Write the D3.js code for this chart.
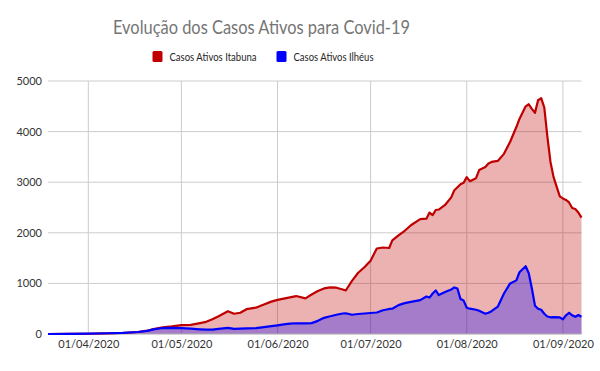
<!DOCTYPE html>
<html>
<head>
<meta charset="utf-8">
<script src="https://cdn.jsdelivr.net/npm/d3@7"></script>
<style>
  body { margin: 0; background: #fff; }
  text { font-family: Lato, "Open Sans", sans-serif; }
</style>
</head>
<body>
<svg id="chart"></svg>
<script>
// dates (dd/mm, 2020) and active cases
const dates = ['19/03','26/03','01/04','07/04','12/04','17/04','20/04','22/04','25/04','28/04',
  '01/05','04/05','07/05','09/05','11/05','13/05','16/05','18/05','20/05','22/05','25/05','27/05','30/05',
  '01/06','03/06','05/06','07/06','10/06','12/06','14/06','16/06','18/06','20/06','22/06','23/06','25/06','27/06','29/06',
  '01/07','03/07','05/07','07/07','08/07','10/07','12/07','14/07','17/07','19/07','20/07','21/07','22/07','23/07','25/07','27/07','28/07','29/07','30/07','31/07',
  '01/08','02/08','04/08','05/08','07/08','08/08','09/08','11/08','13/08','15/08','17/08','18/08','20/08','21/08','22/08','23/08','24/08','25/08','26/08','27/08','28/08','29/08','31/08',
  '01/09','02/09','03/09','04/09','05/09','06/09','07/09'];

const itabuna = [0, 2, 5, 12, 20, 40, 65, 95, 130, 150,
  175, 180, 215, 240, 290, 350, 450, 400, 420, 490, 520, 570, 640,
  675, 700, 725, 750, 705, 780, 850, 900, 920, 915, 880, 860, 1050, 1210, 1320,
  1450, 1690, 1710, 1700, 1850, 1950, 2040, 2150, 2270, 2280, 2400, 2350, 2450, 2460, 2550, 2700, 2840, 2900, 2960, 2990,
  3100, 3020, 3080, 3240, 3300, 3370, 3400, 3420, 3560, 3800, 4090, 4250, 4500, 4540, 4450, 4370, 4620, 4660, 4480, 3900, 3400, 3100, 2720,
  2680, 2650, 2600, 2490, 2470, 2400, 2300];

const ilheus = [0, 3, 8, 15, 22, 40, 62, 90, 118, 122,
  118, 105, 92, 85, 85, 100, 120, 100, 105, 110, 115, 130, 155,
  172, 190, 205, 212, 210, 215, 260, 320, 350, 380, 405, 410, 380, 395, 405,
  415, 425, 470, 495, 500, 570, 610, 635, 670, 740, 720, 800, 860, 770, 830, 880, 920, 900, 690, 660,
  520, 500, 480, 460, 400, 420, 450, 540, 800, 1000, 1060, 1220, 1340, 1200, 900, 560, 500, 480, 400, 345, 330, 335, 330,
  290, 370, 420, 370, 340, 375, 342];

const seriesNames = ['Casos Ativos Itabuna', 'Casos Ativos Ilhéus'];
const seriesColors = ['#c00000', '#0000ff'];
const yTicks = [0, 1000, 2000, 3000, 4000, 5000];

const width = 600, height = 371;
const margin = { top: 81, right: 18.5, bottom: 37, left: 48 };

const parse = d3.timeParse('%d/%m/%Y');
const days = dates.map(d => parse(d + '/2020'));
const series = [itabuna, ilheus].map(vals => vals.map((v, i) => ({ date: days[i], value: v })));

const svg = d3.select('#chart')
  .attr('width', width)
  .attr('height', height);

const x = d3.scaleTime()
  .domain([days[0], days[days.length - 1]])
  .range([margin.left, width - margin.right]);

const y = d3.scaleLinear()
  .domain([0, 5000])
  .range([height - margin.bottom, margin.top]);

const monthTicks = d3.timeMonth.range(d3.timeMonth.ceil(days[0]), days[days.length - 1]);

// gridlines
svg.append('g')
  .selectAll('line')
  .data(yTicks)
  .join('line')
    .attr('x1', margin.left)
    .attr('x2', width - margin.right)
    .attr('y1', d => y(d))
    .attr('y2', d => y(d))
    .attr('stroke', '#cccccc');

svg.append('g')
  .selectAll('line')
  .data(monthTicks)
  .join('line')
    .attr('x1', d => x(d))
    .attr('x2', d => x(d))
    .attr('y1', y(0))
    .attr('y2', y(5000))
    .attr('stroke', '#cccccc');

// areas + lines
const area = d3.area()
  .x(d => x(d.date))
  .y0(y(0))
  .y1(d => y(d.value));

const line = d3.line()
  .x(d => x(d.date))
  .y(d => y(d.value));

svg.append('g')
  .selectAll('path')
  .data(series)
  .join('path')
    .attr('d', area)
    .attr('fill', (d, i) => seriesColors[i])
    .attr('fill-opacity', 0.3);

svg.append('line')
  .attr('x1', margin.left)
  .attr('x2', width - margin.right)
  .attr('y1', y(0))
  .attr('y2', y(0))
  .attr('stroke', '#bfbfbf');

svg.append('g')
  .selectAll('path')
  .data(series)
  .join('path')
    .attr('d', line)
    .attr('fill', 'none')
    .attr('stroke', (d, i) => seriesColors[i])
    .attr('stroke-width', 2.2)
    .attr('stroke-linejoin', 'round');

// axes
const yAxis = d3.axisLeft(y)
  .tickValues(yTicks)
  .tickFormat(d3.format('d'))
  .tickSize(0)
  .tickPadding(6);

svg.append('g')
  .attr('transform', `translate(${margin.left},0)`)
  .call(yAxis)
  .call(g => g.select('.domain').remove())
  .call(g => g.selectAll('text')
    .style('font-family', 'Lato, "Open Sans", sans-serif')
    .style('font-size', '11px')
    .attr('fill', '#333333'));

const xAxis = d3.axisBottom(x)
  .tickValues(monthTicks)
  .tickFormat(d3.timeFormat('%d/%m/%Y'))
  .tickSize(0)
  .tickPadding(6);

svg.append('g')
  .attr('transform', `translate(0,${y(0)})`)
  .call(xAxis)
  .call(g => g.select('.domain').remove())
  .call(g => g.selectAll('text')
    .style('font-family', 'Lato, "Open Sans", sans-serif')
    .style('font-size', '11px')
    .attr('fill', '#333333'));

// title
svg.append('text')
  .attr('x', 261.5)
  .attr('y', 34)
  .attr('text-anchor', 'middle')
  .attr('fill', '#757575')
  .attr('textLength', 297)
  .attr('lengthAdjust', 'spacingAndGlyphs')
  .style('font-size', '19px')
  .text('Evolução dos Casos Ativos para Covid-19');

// legend
const legendX = [152.5, 276.5];
const legendW = [87, 80];
const legend = svg.append('g')
  .selectAll('g')
  .data(seriesNames)
  .join('g')
    .attr('transform', (d, i) => `translate(${legendX[i]},51)`);

legend.append('rect')
  .attr('width', 10)
  .attr('height', 11)
  .attr('rx', 1.5)
  .attr('fill', (d, i) => seriesColors[i]);

legend.append('text')
  .attr('x', 17)
  .attr('y', 9.5)
  .attr('fill', '#262626')
  .attr('textLength', (d, i) => legendW[i])
  .attr('lengthAdjust', 'spacingAndGlyphs')
  .style('font-size', '11.5px')
  .text(d => d);
</script>
</body>
</html>
